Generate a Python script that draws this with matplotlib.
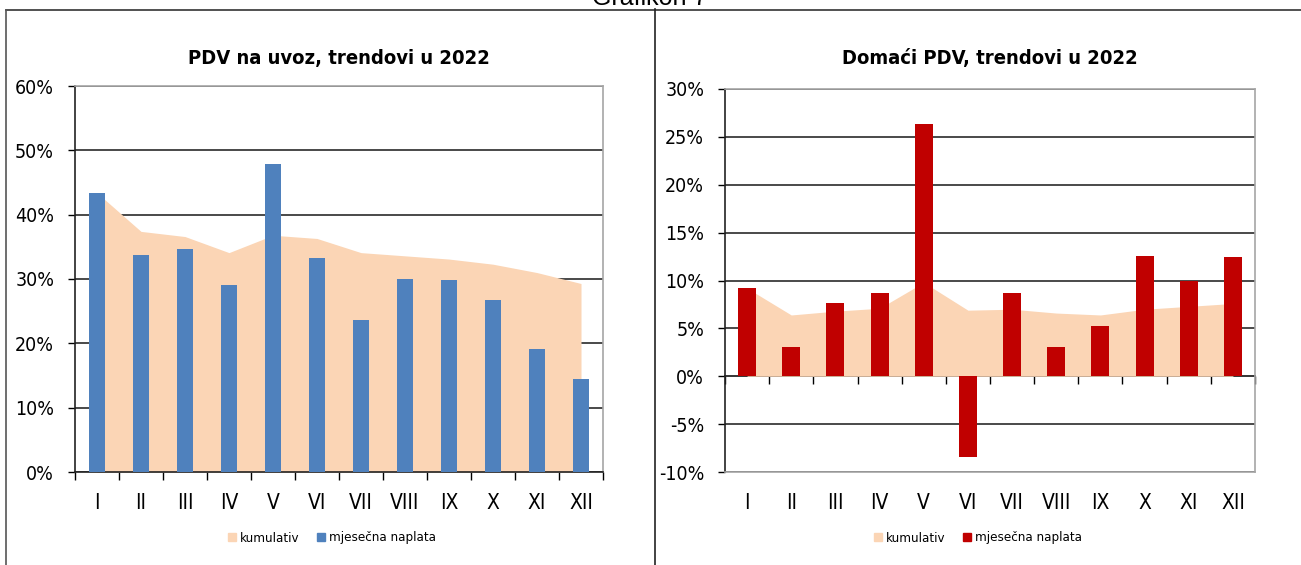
import matplotlib
matplotlib.use("Agg")
import matplotlib.pyplot as plt
import numpy as np
from matplotlib.ticker import PercentFormatter, MultipleLocator, FixedLocator, NullFormatter
from matplotlib.patches import Patch

# ------------------------------
# data (u procentima)
# ------------------------------
mjeseci = ["I", "II", "III", "IV", "V", "VI", "VII", "VIII", "IX", "X", "XI", "XII"]

uvoz_mjesecno = [43.4, 33.7, 34.7, 29.1, 47.9, 33.3, 23.6, 30.0, 29.8, 26.7, 19.1, 14.5]
uvoz_kumulativ = [43.4, 37.4, 36.6, 34.1, 36.8, 36.3, 34.1, 33.6, 33.1, 32.3, 31.0, 29.3]

domaci_mjesecno = [9.2, 3.1, 7.6, 8.7, 26.3, -8.4, 8.7, 3.1, 5.3, 12.6, 9.9, 12.5]
domaci_kumulativ = [9.2, 6.4, 6.8, 7.1, 9.8, 6.9, 7.0, 6.6, 6.4, 7.0, 7.3, 7.6]

PLAVA = "#4F81BD"
CRVENA = "#C00000"
BEZ = "#FBD5B5"
SIVA = "#A6A6A6"

plt.rcParams["font.family"] = ["DejaVu Sans"]
plt.rcParams["font.stretch"] = "condensed"
plt.rcParams["axes.unicode_minus"] = False

W, H = 1301, 565
fig = plt.figure(figsize=(W / 100, H / 100), dpi=100)


def px_axes(x0, x1, ytop, ybot):
    return fig.add_axes([x0 / W, 1 - ybot / H, (x1 - x0) / W, (ybot - ytop) / H])


def nacrtaj(ax, mjesecno, kumulativ, boja, ymin, ymax, korak, sirina):
    x = np.arange(len(mjeseci))
    ax.fill_between(x, kumulativ, 0, color=BEZ, lw=0, zorder=2, label="kumulativ")
    ax.bar(x, mjesecno, width=sirina, color=boja, zorder=3, label="mjesečna naplata")
    ax.set_xlim(-0.5, len(mjeseci) - 0.5)
    ax.set_ylim(ymin, ymax)
    ax.yaxis.set_major_locator(MultipleLocator(korak))
    ax.yaxis.set_major_formatter(PercentFormatter(decimals=0))
    ax.grid(axis="y", color="#3a3a3a", lw=1.3, zorder=1)
    ax.set_axisbelow(True)
    ax.set_xticks(x)
    ax.set_xticklabels(mjeseci)
    ax.tick_params(axis="y", length=5, width=1, labelsize=14, pad=10)
    ax.tick_params(axis="x", length=0, labelsize=15, pad=15)
    ax.spines["left"].set_color("#222222")
    ax.spines["top"].set_color(SIVA)
    ax.spines["right"].set_color(SIVA)
    for s in ax.spines.values():
        s.set_linewidth(1.2)


# ------------------------------
# lijevi grafikon: PDV na uvoz
# ------------------------------
ax1 = px_axes(75, 603, 86, 472)
nacrtaj(ax1, uvoz_mjesecno, uvoz_kumulativ, PLAVA, 0, 60, 10, 0.38)
ax1.spines["bottom"].set_color("#222222")
ax1.xaxis.set_minor_locator(FixedLocator(np.arange(-0.5, 12, 1)))
ax1.tick_params(axis="x", which="minor", length=6, width=1, direction="out")
ax1.set_title("PDV na uvoz, trendovi u 2022", fontsize=14.5, fontweight="bold", pad=16)

# ------------------------------
# desni grafikon: domaci PDV
# ------------------------------
ax2 = px_axes(725, 1255, 89, 472)
nacrtaj(ax2, domaci_mjesecno, domaci_kumulativ, CRVENA, -10, 30, 5, 0.41)
ax2.spines["bottom"].set_color(SIVA)
nula = ax2.secondary_xaxis(0.25)
nula.set_xticks(np.arange(-0.5, 12, 1))
nula.xaxis.set_major_formatter(NullFormatter())
nula.tick_params(axis="x", length=6, width=1, direction="out")
nula.spines["bottom"].set_color("#222222")
nula.spines["bottom"].set_linewidth(1.3)
ax2.set_title("Domaći PDV, trendovi u 2022", fontsize=14.5, fontweight="bold", pad=18)

# legende
for ax, boja, cx in [(ax1, PLAVA, 332 / W), (ax2, CRVENA, 978 / W)]:
    rucke = [Patch(color=BEZ, label="kumulativ"), Patch(color=boja, label="mjesečna naplata")]
    fig.legend(handles=rucke, loc="center", bbox_to_anchor=(cx, 1 - 538 / H), ncol=2,
               frameon=False, fontsize=9.5, handlelength=0.6, handleheight=0.6,
               handletextpad=0.3, columnspacing=1.4)

# okviri
fig.add_artist(plt.Line2D([6 / W, 1], [1 - 10 / H] * 2, color="#333333", lw=1.2))
fig.add_artist(plt.Line2D([6 / W] * 2, [0, 1 - 10 / H], color="#555555", lw=1.2))
fig.add_artist(plt.Line2D([655 / W] * 2, [0, 1 - 9 / H], color="#222222", lw=1.2))
fig.text(650 / W, 1 + 2 / H, "Grafikon 7", ha="center", va="center", fontsize=18,
         family=["Liberation Sans", "DejaVu Sans"], stretch="normal")

fig.savefig("out.png", dpi=100)
